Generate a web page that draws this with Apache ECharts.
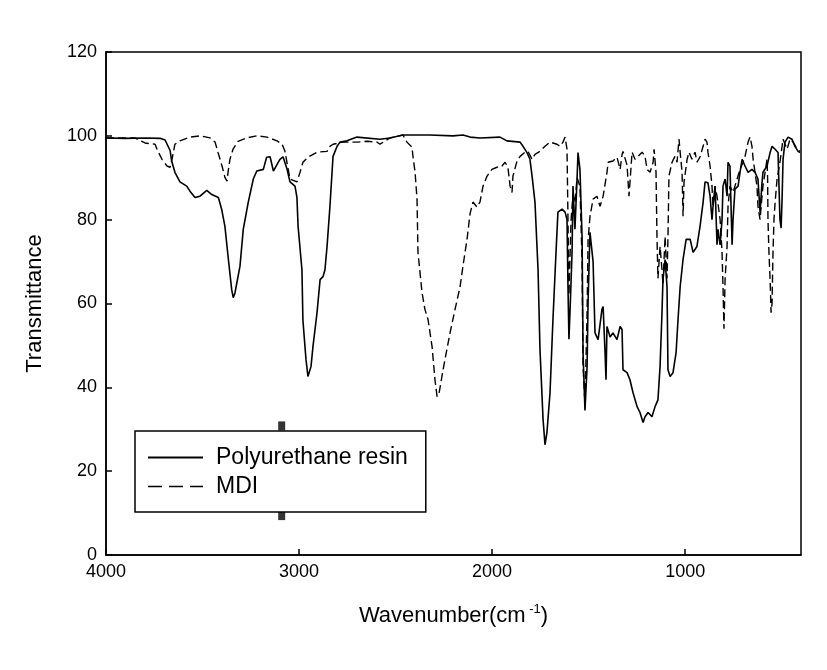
<!DOCTYPE html>
<html>
<head>
<meta charset="utf-8">
<script src="https://cdn.jsdelivr.net/npm/echarts@6/dist/echarts.min.js"></script>
<style>
html,body{margin:0;padding:0;background:#fff;}
#chart{width:827px;height:670px;}
</style>
</head>
<body>
<div id="chart"></div>
<script>
// Polyurethane resin spectrum (wavenumber cm-1, transmittance %)
var prWavenumber = [4000,3900,3800,3720,3694,3668,3660,3643,3617,3582,3565,3539,3513,3478,3452,3418,3401,3384,3366,3349,3341,3332,3306,3289,3263,3237,3219,3185,3168,3150,3133,3116,3099,3083,3062,3047,3021,3011,3005,2985,2980,2964,2954,2938,2928,2907,2891,2876,2866,2855,2840,2824,2803,2788,2752,2700,2581,2529,2462,2322,2203,2151,2114,2063,1959,1923,1855,1840,1819,1804,1793,1778,1762,1752,1736,1726,1716,1700,1685,1669,1659,1638,1622,1612,1607,1602,1595,1586,1581,1571,1560,1555,1545,1534,1529,1519,1508,1503,1493,1477,1467,1451,1431,1425,1415,1410,1405,1389,1374,1353,1337,1327,1322,1301,1286,1270,1249,1234,1218,1208,1192,1172,1156,1141,1130,1120,1115,1104,1094,1089,1078,1063,1047,1037,1026,1011,995,974,959,939,923,907,897,882,871,861,856,845,835,830,819,809,804,793,783,778,768,757,752,742,726,716,705,690,674,654,638,623,612,602,597,576,560,550,534,519,509,503,498,493,483,467,447,431,415,405];
var prTransmittance = [99.5,99.4,99.5,99.4,99.0,96.5,94.0,91.3,89.0,88.0,86.8,85.3,85.6,87.0,86.0,85.3,82.5,78.4,70.5,63.3,61.4,62.5,68.9,77.7,84.2,89.7,91.6,92.0,94.9,95.0,91.6,93.0,94.4,95.0,92.0,89.0,88.0,85.3,78.4,68.0,56.0,46.6,42.6,45.0,49.7,57.8,65.7,66.4,68.0,73.6,83.2,95.1,97.5,98.5,98.8,99.7,99.2,99.5,100.2,100.2,100.0,100.2,99.7,99.5,99.7,98.8,98.5,97.5,96.0,94.4,90.4,84.2,68.0,49.0,32.3,26.3,29.2,38.7,56.0,72.2,81.8,82.5,81.8,80.0,64.0,51.5,60.0,72.0,88.0,77.7,89.7,96.0,92.0,76.0,48.3,34.5,45.0,60.2,77.0,70.0,53.0,51.4,58.6,59.3,48.3,41.8,54.5,52.0,53.0,51.4,54.5,53.8,44.2,43.5,41.8,38.7,35.4,34.0,31.6,33.0,34.0,33.0,35.4,37.0,45.0,57.9,65.7,70.5,64.0,44.2,42.6,43.5,48.3,56.2,64.0,70.5,75.3,75.3,72.2,73.6,78.4,84.2,89.0,88.8,85.6,80.0,83.0,88.0,74.0,77.7,74.0,80.0,88.0,89.7,85.6,93.7,92.8,74.0,80.0,87.3,88.0,91.3,94.4,92.8,91.3,92.0,91.3,89.7,81.8,88.8,91.3,92.8,96.0,97.5,96.8,96.0,80.0,78.0,85.0,94.4,98.5,99.7,99.2,97.5,96.3,96.0];

// MDI spectrum
var mdiWavenumber = [4000,3850,3798,3746,3731,3710,3684,3668,3658,3643,3617,3565,3513,3461,3435,3420,3399,3384,3373,3368,3358,3342,3316,3270,3218,3166,3114,3088,3073,3062,3047,3011,2995,2980,2954,2907,2855,2840,2824,2772,2700,2648,2596,2581,2529,2462,2441,2415,2410,2399,2389,2384,2363,2348,2332,2311,2296,2285,2275,2254,2218,2192,2166,2151,2130,2114,2099,2078,2063,2047,2026,2001,1975,1949,1933,1918,1907,1897,1892,1871,1855,1830,1814,1793,1778,1752,1726,1700,1664,1648,1633,1622,1612,1607,1602,1591,1581,1571,1560,1545,1534,1529,1519,1508,1503,1493,1477,1457,1441,1425,1405,1399,1374,1353,1337,1327,1322,1301,1291,1275,1260,1244,1223,1208,1197,1182,1166,1161,1151,1146,1141,1130,1120,1115,1104,1094,1089,1084,1068,1053,1042,1032,1026,1016,1011,1006,990,980,965,949,939,923,907,897,887,882,871,861,856,845,835,819,809,804,799,793,783,778,768,752,731,716,700,690,674,664,654,648,628,623,612,602,597,586,576,573,571,566,560,555,550,545,540,534,524,509,498,493,472,457,441,420,405];
var mdiTransmittance = [99.5,99.5,98.3,98.0,96.3,94.4,92.8,92.5,94.4,98.0,98.8,99.7,100.0,99.5,98.5,96.1,92.8,90.1,89.2,91.3,94.4,96.8,98.7,99.5,100.0,99.7,98.8,98.0,96.3,93.5,89.7,89.0,91.3,93.7,94.9,96.1,96.3,97.5,98.0,98.5,98.5,98.7,98.5,98.0,99.5,100.2,98.5,97.3,95.1,91.3,84.9,72.2,62.6,58.6,56.2,49.7,41.8,37.8,38.5,44.2,53.0,58.6,64.0,68.9,75.3,81.5,84.2,83.0,84.2,88.0,90.4,92.0,92.5,92.8,93.7,92.5,88.0,86.5,90.4,94.0,95.1,96.1,96.3,94.4,95.6,96.3,97.5,98.5,98.0,97.5,98.5,99.7,96.8,80.0,62.0,80.0,86.0,84.0,90.0,88.0,70.0,45.0,36.0,58.0,75.0,80.8,84.9,85.6,83.2,85.6,91.3,93.7,94.0,94.9,92.0,95.5,96.3,93.0,85.6,96.1,94.4,95.1,96.1,95.1,92.0,91.3,93.7,96.8,91.3,76.0,66.0,73.6,68.0,64.5,76.0,66.0,76.0,90.4,93.7,95.1,93.7,99.2,96.1,91.3,80.8,88.9,94.4,96.1,94.4,96.1,93.7,95.0,97.5,99.2,98.5,96.1,92.8,88.0,83.2,88.0,85.6,80.0,72.2,64.0,54.0,66.0,73.6,83.2,88.0,86.5,89.7,92.0,93.7,95.1,98.5,99.7,97.5,94.4,88.0,83.2,80.0,85.6,88.0,91.3,94.4,90.0,80.0,72.2,65.7,57.8,60.0,72.2,80.0,84.2,89.7,93.7,97.5,99.2,96.8,99.2,98.5,96.8,96.3];

// small square marks seen near the legend
var markWavenumber = [3090, 3090];
var markTransmittance = [30.8, 9.4];

var xTicks = [4000, 3000, 2000, 1000];
var yTicks = [0, 20, 40, 60, 80, 100, 120];

function pairs(xs, ys){ var out=[]; for(var i=0;i<xs.length;i++){ out.push([xs[i], ys[i]]); } return out; }

var FONT = 'Liberation Sans, Arial, sans-serif';
var chart = echarts.init(document.getElementById('chart'), null, {renderer:'canvas'});
chart.setOption({
  animation: false,
  backgroundColor: '#fff',
  grid: {left:106, right:26, top:52, bottom:115, show:true, borderColor:'#000', borderWidth:1.5, outerBoundsMode:'none', containLabel:false},
  xAxis: {
    type:'value', min:400, max:4000, inverse:true,
    name:'{a|Wavenumber(cm}{s| -1}{a|)}', nameLocation:'middle', nameGap:48,
    nameTextStyle:{ rich:{ a:{fontSize:22, fontFamily:FONT, color:'#000', lineHeight:26}, s:{fontSize:13, fontFamily:FONT, color:'#000', verticalAlign:'top', lineHeight:26, padding:[0,0,10,0]} } },
    axisLine:{lineStyle:{color:'#000', width:1.5}},
    axisTick:{inside:true, length:6, lineStyle:{color:'#000', width:1.5}, customValues:xTicks},
    axisLabel:{color:'#000', fontSize:18, fontFamily:FONT, margin:8, customValues:xTicks, formatter:function(v){return String(v);}},
    splitLine:{show:false}
  },
  yAxis: {
    type:'value', min:0, max:120, interval:20,
    name:'Transmittance', nameLocation:'middle', nameGap:60, nameRotate:90,
    nameTextStyle:{fontSize:22, fontFamily:FONT, color:'#000'},
    axisLine:{lineStyle:{color:'#000', width:1.5}},
    axisTick:{inside:true, length:6, lineStyle:{color:'#000', width:1.5}, customValues:yTicks},
    axisLabel:{color:'#000', fontSize:18, fontFamily:FONT, margin:9, customValues:yTicks, formatter:function(v){return String(v);}},
    splitLine:{show:false}
  },
  legend: {
    data:[{name:'Polyurethane resin'}, {name:'MDI', lineStyle:{type:[14,7], width:1.5}}],
    orient:'vertical', left:135, top:431,
    backgroundColor:'#fff', borderColor:'#000', borderWidth:1.5, borderRadius:0,
    padding:[15,18,14,12], itemGap:6, itemWidth:55, itemHeight:14,
    itemStyle:{opacity:0},
    textStyle:{fontSize:23, fontFamily:FONT, color:'#000', lineHeight:22, padding:[0,0,0,8]}
  },
  series: [
    {name:'Polyurethane resin', type:'line', data:pairs(prWavenumber, prTransmittance), symbol:'none', showSymbol:false, lineStyle:{color:'#000', width:1.6, type:'solid'}, itemStyle:{color:'#000'}},
    {name:'MDI', type:'line', data:pairs(mdiWavenumber, mdiTransmittance), symbol:'none', showSymbol:false, lineStyle:{color:'#000', width:1.4, type:[8,4]}, itemStyle:{color:'#000'}},
    {name:'marks', type:'scatter', data:pairs(markWavenumber, markTransmittance), symbol:'rect', symbolSize:[7,9], itemStyle:{color:'#000'}, z:1}
  ]
});
</script>
</body>
</html>
